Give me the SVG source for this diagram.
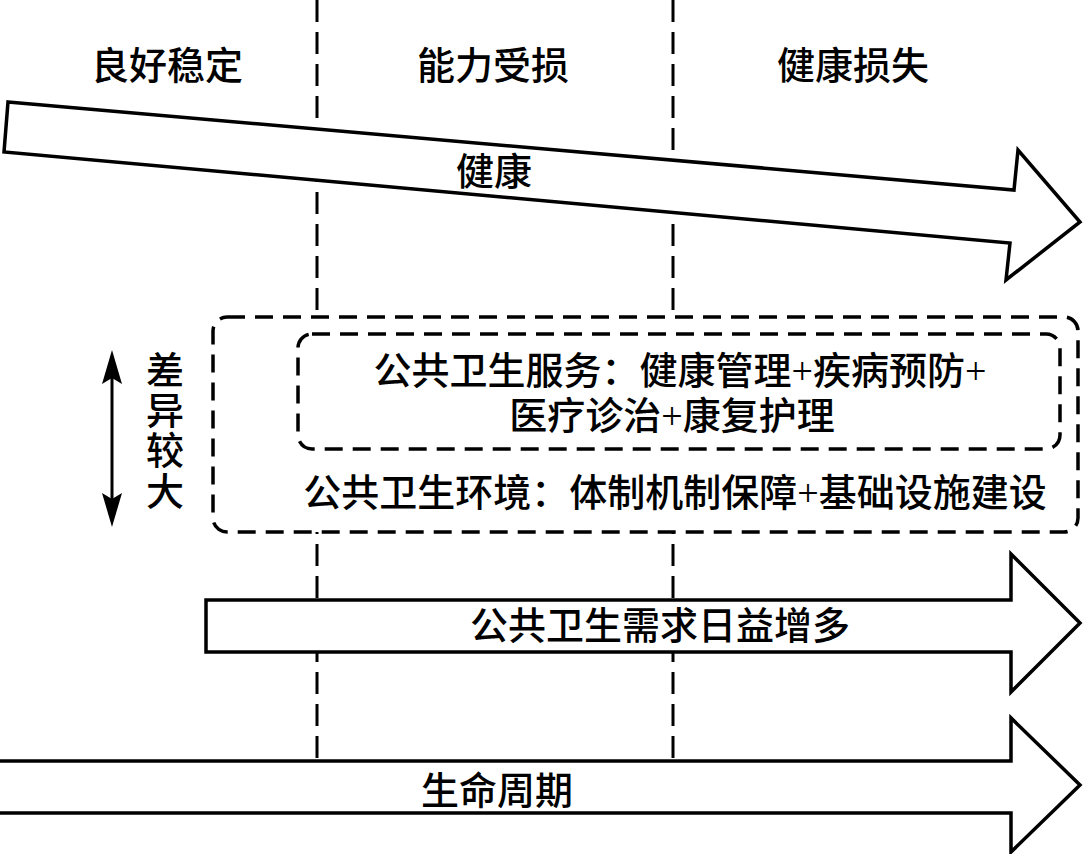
<svg xmlns="http://www.w3.org/2000/svg" width="1083" height="854" viewBox="0 0 1083 854">
<style>
.t{font-family:"Liberation Serif","Noto Sans CJK SC",serif;font-size:38px;font-weight:500;fill:#000;text-anchor:middle}
.grid{stroke:#000;stroke-width:3;stroke-dasharray:22 10;fill:none}
.arr{fill:#fff;stroke:#000;stroke-width:3.5;stroke-linejoin:miter}
.box{fill:#fff;stroke:#000;stroke-width:3.5;stroke-dasharray:18 10}
</style>
<defs>
<marker id="head" markerUnits="userSpaceOnUse" markerWidth="40" markerHeight="24" viewBox="0 -12 40 24" refX="24" refY="0" orient="auto-start-reverse">
<path d="M0,-10 L34,0 L0,10 L6,0 Z" fill="#000"/>
</marker>
</defs>
<rect width="1083" height="854" fill="#fff"/>
<g id="connectors">
<line class="grid" x1="317" y1="0" x2="317" y2="761"/>
<line class="grid" x1="673" y1="0" x2="673" y2="761"/>
<line x1="112" y1="360" x2="112" y2="517" stroke="#000" stroke-width="3" marker-start="url(#head)" marker-end="url(#head)"/>
</g>
<g id="headers">
<text class="t" x="167" y="79">良好稳定</text>
<text class="t" x="493" y="79">能力受损</text>
<text class="t" x="853" y="79">健康损失</text>
</g>
<g id="health">
<polygon class="arr" points="8,102 1014,190 1018,150 1080,222 1006,280 1010,243 4,152"/>
<text class="t" x="494" y="185">健康</text>
</g>
<g id="diff">
<text class="t" x="165" y="384">差</text>
<text class="t" x="165" y="424">异</text>
<text class="t" x="165" y="464">较</text>
<text class="t" x="165" y="505">大</text>
</g>
<g id="environment">
<rect class="box" x="213" y="317" width="865" height="215" rx="14"/>
<text class="t" x="675" y="506">公共卫生环境：体制机制保障+基础设施建设</text>
</g>
<g id="service">
<rect class="box" x="298" y="334" width="762" height="115" rx="14"/>
<text class="t" x="680" y="384">公共卫生服务：健康管理+疾病预防+</text>
<text class="t" x="672" y="429">医疗诊治+康复护理</text>
</g>
<g id="demand">
<polygon class="arr" points="206,600 1011,600 1011,554 1080,623 1011,692 1011,652 206,652"/>
<text class="t" x="660" y="639">公共卫生需求日益增多</text>
</g>
<g id="lifecycle">
<polygon class="arr" points="-5,761 1011,761 1011,718 1080,785 1011,852 1011,813 -5,813"/>
<text class="t" x="497" y="804">生命周期</text>
</g>
</svg>
